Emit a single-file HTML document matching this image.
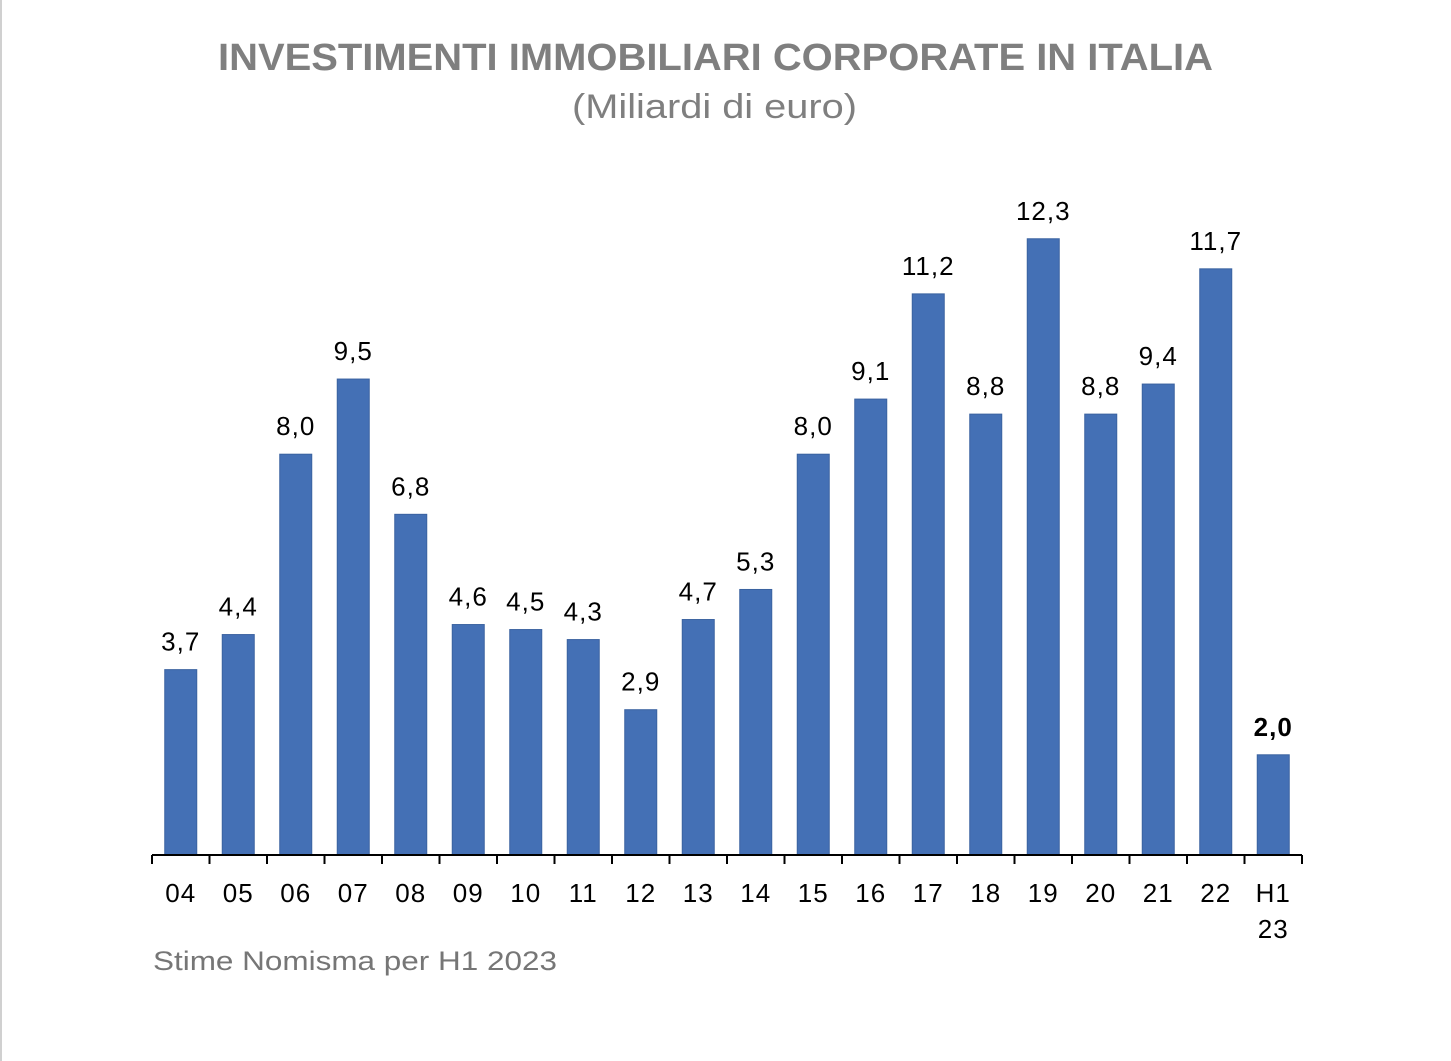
<!DOCTYPE html>
<html><head><meta charset="utf-8"><style>
body{margin:0;background:#fff;width:1451px;height:1061px;overflow:hidden;}
svg{display:block;}
</style></head><body>
<svg id="chart" width="1451" height="1061" xmlns="http://www.w3.org/2000/svg">
<rect x="0" y="0" width="2" height="1061" fill="#d0d0d0"/>
<text x="218" y="70" textLength="995" lengthAdjust="spacingAndGlyphs" font-family="Liberation Sans, sans-serif" font-weight="bold" font-size="38" fill="#7f7f7f">INVESTIMENTI IMMOBILIARI CORPORATE IN ITALIA</text>
<text x="572" y="118" textLength="285" lengthAdjust="spacingAndGlyphs" font-family="Liberation Sans, sans-serif" font-size="34" fill="#7f7f7f">(Miliardi di euro)</text>
<g id="bars"></g>
<g id="axis"></g>
<text x="153" y="970" textLength="404" lengthAdjust="spacingAndGlyphs" font-family="Liberation Sans, sans-serif" font-size="27" fill="#767676">Stime Nomisma per H1 2023</text>
</svg>
<script>
const categories=["04","05","06","07","08","09","10","11","12","13","14","15","16","17","18","19","20","21","22","H1\n23"];
const values=[3.7,4.4,8.0,9.5,6.8,4.6,4.5,4.3,2.9,4.7,5.3,8.0,9.1,11.2,8.8,12.3,8.8,9.4,11.7,2.0];
const labels=["3,7","4,4","8,0","9,5","6,8","4,6","4,5","4,3","2,9","4,7","5,3","8,0","9,1","11,2","8,8","12,3","8,8","9,4","11,7","2,0"];
const NS="http://www.w3.org/2000/svg";
const x0=152,x1=1302,base=855,scale=50.1,bw=32;
const step=(x1-x0)/categories.length;
const xc=i=>x0+step*(i+0.5);
const y=v=>base-v*scale;
const bars=document.getElementById('bars'),axis=document.getElementById('axis');
values.forEach((v,i)=>{
 const r=document.createElementNS(NS,'rect');
 r.setAttribute('x',xc(i)-bw/2);r.setAttribute('y',y(v));r.setAttribute('width',bw);r.setAttribute('height',base-y(v));
 r.setAttribute('fill','#4470b5');r.setAttribute('stroke','#3a62a0');r.setAttribute('stroke-width','1');
 
 
 bars.appendChild(r);
 const t=document.createElementNS(NS,'text');
 t.setAttribute('x',xc(i));t.setAttribute('y',y(v)-19);t.setAttribute('text-anchor','middle');
 t.setAttribute('font-family','Liberation Sans, sans-serif');t.setAttribute('font-size','26');
 t.setAttribute('letter-spacing','1');
 if(i===values.length-1)t.setAttribute('font-weight','bold');
 t.textContent=labels[i];
 
 
 bars.appendChild(t);
 const lines=categories[i].split('\n');
 lines.forEach((ln,j)=>{
  const c=document.createElementNS(NS,'text');
  c.setAttribute('x',xc(i));c.setAttribute('y',902+j*36);c.setAttribute('text-anchor','middle');
  c.setAttribute('font-family','Liberation Sans, sans-serif');c.setAttribute('font-size','26');
  c.setAttribute('letter-spacing','1');
  c.textContent=ln;
  
  
  axis.appendChild(c);
 });
});
const l=document.createElementNS(NS,'line');
l.setAttribute('x1',x0);l.setAttribute('x2',x1);l.setAttribute('y1',base);l.setAttribute('y2',base);
l.setAttribute('stroke','#000');l.setAttribute('stroke-width','2');


axis.appendChild(l);
for(let i=0;i<=categories.length;i++){
 const tk=document.createElementNS(NS,'line');
 const xx=x0+step*i;
 tk.setAttribute('x1',xx);tk.setAttribute('x2',xx);tk.setAttribute('y1',base);tk.setAttribute('y2',base+9);
 tk.setAttribute('stroke','#000');tk.setAttribute('stroke-width','2');
 
 
 axis.appendChild(tk);
}
</script>
</body></html>
